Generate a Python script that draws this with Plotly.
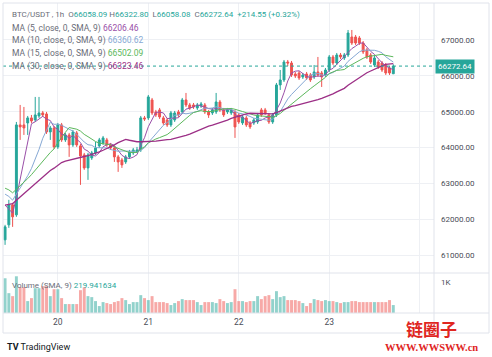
import plotly.graph_objects as go
import pandas as pd

# ---------------- data ----------------
day_ticks = [14, 38, 62, 86, 110]
day_labels = ["20", "21", "22", "23", ""]
price_ticks = [61000, 62000, 63000, 64000, 65000, 66000, 67000]
vol_ticks = [1000]
vol_tick_labels = ["1K"]

opens = [61430, 61848, 62405, 62126, 64633, 64633, 64688, 64828, 64772, 64883,
         64967, 64939, 64438, 64549, 64020, 64633, 64215, 64354, 64076, 64410,
         64048, 63797, 63435, 63714, 63853, 64048, 64131, 64215, 64076, 63992,
         63742, 63658, 63602, 63742, 63853, 63881, 63936, 64828, 64828, 65329,
         64995, 65051, 64828, 64772, 64633, 64772, 64995, 64995, 65329, 65190,
         65190, 65106, 65162, 65190, 64995, 64967, 64995, 65273, 65051, 64995,
         64967, 64995, 64911, 64688, 64828, 64688, 64688, 64716, 65051, 65051,
         64911, 64716, 64911, 65747, 65886, 66387, 66359, 66053, 66081, 65970,
         66053, 66025, 65970, 66109, 66081, 66025, 66164, 66527, 66359, 66582,
         66499, 66582, 67084, 67084, 67056, 66916, 66721, 66582, 66304, 66387,
         66359, 66304, 66220, 66058.09]
highs = [61848, 62545, 62461, 64716, 65190, 65134, 64883, 64911, 65413, 65413,
         65023, 64995, 64605, 64605, 64688, 64688, 64410, 64410, 64494, 64466,
         64104, 63853, 63853, 63909, 64159, 64271, 64326, 64271, 64131, 64048,
         63797, 63714, 63797, 63936, 63992, 64020, 64883, 64883, 65468, 65385,
         65051, 65106, 64883, 64828, 65023, 65023, 65051, 65385, 65524, 65245,
         65245, 65245, 65273, 65245, 65051, 65106, 65524, 65329, 65106, 65106,
         65106, 65051, 64967, 64911, 64883, 64744, 64828, 64967, 65106, 65106,
         64967, 64967, 65803, 66164, 66443, 66443, 66415, 66109, 66136, 66081,
         66109, 66081, 66304, 66527, 66136, 66220, 66582, 66582, 66638, 66638,
         66638, 67279, 67279, 67140, 67112, 66972, 66777, 66638, 66555, 66443,
         66415, 66359, 66276, 66322.80]
lows = [61290, 61764, 61792, 62071, 64215, 64354, 64354, 64688, 64716, 64828,
        64855, 64382, 64215, 63964, 63964, 64159, 64159, 63742, 64020, 64020,
        62962, 63380, 63101, 63658, 63797, 63992, 64076, 64020, 63936, 63602,
        63324, 63435, 63546, 63686, 63797, 63853, 63881, 64744, 64772, 64911,
        64855, 64800, 64633, 64577, 64577, 64716, 64855, 64939, 65134, 65051,
        65079, 65051, 65106, 64939, 64828, 64911, 64939, 64995, 64855, 64939,
        64911, 64271, 64661, 64633, 64577, 64521, 64633, 64661, 64855, 64911,
        64661, 64661, 64855, 65608, 65830, 66276, 65970, 65942, 65886, 65914,
        65886, 65830, 65914, 65970, 65691, 65970, 66109, 66304, 66304, 66471,
        66443, 66527, 66861, 66861, 66861, 66610, 66471, 66332, 66248, 66192,
        66109, 66025, 66025, 66058.08]
closes = [61792, 62405, 62071, 64633, 64577, 64549, 64828, 64744, 64911, 64967,
          64911, 64438, 64549, 64020, 64633, 64215, 64354, 64076, 64438, 64076,
          63769, 63435, 63797, 63853, 63992, 64215, 64271, 64076, 63992, 63742,
          63602, 63519, 63742, 63881, 63936, 63936, 64828, 64800, 65413, 64967,
          64911, 64855, 64688, 64633, 64967, 64967, 64911, 65329, 65190, 65106,
          65134, 65190, 65218, 64995, 64911, 65051, 65273, 65051, 64911, 65051,
          65051, 64577, 64716, 64855, 64633, 64577, 64772, 64911, 64911, 64967,
          64716, 64911, 65747, 65886, 66387, 66359, 66025, 65997, 65942, 66025,
          65942, 65886, 66109, 66025, 65970, 66164, 66527, 66359, 66582, 66527,
          66582, 67195, 66916, 66916, 66916, 66666, 66527, 66387, 66499, 66248,
          66164, 66081, 66081, 66272.64]
volumes = [1120, 640, 544, 1184, 832, 832, 384, 480, 800, 800,
           864, 864, 544, 768, 768, 480, 288, 288, 288, 288,
           736, 832, 544, 512, 384, 224, 352, 320, 288, 352,
           384, 480, 416, 288, 352, 352, 576, 480, 416, 544,
           352, 352, 352, 320, 256, 320, 384, 448, 416, 416,
           416, 352, 256, 352, 352, 352, 320, 448, 384, 320,
           352, 768, 384, 384, 352, 384, 384, 544, 448, 544,
           576, 448, 704, 512, 544, 416, 416, 416, 384, 320,
           224, 320, 448, 416, 384, 416, 384, 384, 352, 320,
           352, 352, 384, 384, 352, 352, 352, 352, 352, 352,
           352, 352, 416, 256]
# closes before the visible window (estimated from where the MA lines start)
prior_closes = [61700, 61650, 61800, 61750, 61900, 61850, 62000, 61950, 62050, 62100,
                61900, 62000, 62100, 62050, 62150,
                63100, 63300, 63250, 63150, 63200,
                63050, 63100, 62950, 63000, 62950,
                62900, 62700, 62500, 62100]

header_ohlc = ["66058.09", "66322.80", "66058.08", "66272.64"]
header_change = "+214.55 (+0.32%)"
ma_periods = [5, 10, 15, 30]
ma_value_texts = ["66206.46", "66360.62", "66502.09", "66323.46"]
vol_sma_text = "219.941634"
last_price = 66272.64

# ---------------- styling ----------------
UP, DOWN = "#26a69a", "#ef5350"
UP_V, DOWN_V = "rgba(38,166,154,0.5)", "rgba(239,83,80,0.5)"
MA_COLORS = ["#9a4fa8", "#86a8d4", "#5cb85c", "#9c2f86"]
GRID = "#eef0f4"
BORDER = "#e0e3eb"
TXT = "#4a4d57"
FONT = "Roboto"

W, H = 492, 357
PL, PR, PT, PB = 3, 434, 3, 313   # plot area in pixels
PW, PH = PR - PL, PB - PT


def xp(px):
    return (px - PL) / PW


def yp(py):
    return (PB - py) / PH


split = yp(273)
x_range = [-0.55, 113.8]
price_range = [60506, 68031]
vol_range = [0, 1290]

n = len(closes)
idx = list(range(n))
all_close = pd.Series(prior_closes + closes, dtype=float)
mas = {p: all_close.rolling(p).mean().iloc[-n:].tolist() for p in ma_periods}

fig = go.Figure()
fig.add_trace(go.Candlestick(
    x=idx, open=opens, high=highs, low=lows, close=closes,
    increasing=dict(line=dict(color=UP, width=1), fillcolor=UP),
    decreasing=dict(line=dict(color=DOWN, width=1), fillcolor=DOWN),
    whiskerwidth=0, xaxis="x", yaxis="y", showlegend=False, hoverinfo="skip"))
for p, col in zip(ma_periods, MA_COLORS):
    fig.add_trace(go.Scatter(
        x=idx, y=mas[p], mode="lines",
        line=dict(color=col, width=1.3 if p == 30 else 1),
        xaxis="x", yaxis="y", showlegend=False, hoverinfo="skip"))
vol_colors = [UP_V if c >= o else DOWN_V for o, c in zip(opens, closes)]
fig.add_trace(go.Bar(x=idx, y=volumes, marker=dict(color=vol_colors, line=dict(width=0)),
                     xaxis="x2", yaxis="y2", showlegend=False, hoverinfo="skip"))

tickfont = dict(family=FONT, size=8, color=TXT)
fig.update_layout(
    width=W, height=H, autosize=False,
    margin=dict(l=PL, r=W - PR, t=PT, b=H - PB, pad=0),
    paper_bgcolor="white", plot_bgcolor="white",
    showlegend=False, bargap=0.22, boxgap=0.28,
    xaxis=dict(domain=[0, 1], anchor="y", range=x_range, tickvals=day_ticks,
               showticklabels=False, showgrid=True, gridcolor=GRID, gridwidth=1,
               zeroline=False, showline=False, ticks="", rangeslider=dict(visible=False),
               fixedrange=True),
    yaxis=dict(domain=[split, 1], anchor="x", side="right", range=price_range,
               tickvals=price_ticks, tickformat=".2f", showgrid=True, gridcolor=GRID,
               zeroline=False, showline=False, ticks="", tickfont=tickfont,
               ticklabelstandoff=6),
    xaxis2=dict(domain=[0, 1], anchor="y2", range=x_range, tickvals=day_ticks,
                ticktext=day_labels, showgrid=True, gridcolor=GRID, zeroline=False,
                showline=False, ticks="", tickfont=dict(family=FONT, size=8.5, color=TXT),
                ticklabelstandoff=2),
    yaxis2=dict(domain=[0, split], anchor="x2", side="right", range=vol_range,
                tickvals=vol_ticks, ticktext=vol_tick_labels, showgrid=False,
                zeroline=False, showline=False, ticks="", tickfont=tickfont,
                ticklabelstandoff=6),
)

shapes = [
    dict(type="line", xref="paper", yref="y", x0=0, x1=1, y0=last_price, y1=last_price,
         line=dict(color=UP, width=1, dash="dot")),
    dict(type="line", xref="paper", yref="paper", x0=0, x1=xp(489), y0=split, y1=split,
         line=dict(color=BORDER, width=1)),
    dict(type="line", xref="paper", yref="paper", x0=0, x1=xp(489), y0=0, y1=0,
         line=dict(color=BORDER, width=1)),
    dict(type="line", xref="paper", yref="paper", x0=1, x1=1, y0=yp(333), y1=1,
         line=dict(color=BORDER, width=1)),
    dict(type="rect", xref="paper", yref="paper", x0=xp(3), x1=xp(489), y0=yp(333), y1=yp(3),
         line=dict(color=BORDER, width=1)),
]
fig.update_layout(shapes=shapes)


def span(t, c):
    return f"<span style='color:{c}'>{t}</span>"


LBL = "#6a6d78"
ann = []
line1 = ("BTC/USDT , 1h  O" + span(header_ohlc[0], UP) + " H" + span(header_ohlc[1], UP)
         + "  L" + span(header_ohlc[2], UP) + "  C" + span(header_ohlc[3], UP) + "  "
         + span(header_change, UP))
ann.append(dict(text=line1, x=xp(10), y=yp(15), font=dict(family=FONT, size=8, color=LBL)))
for k, (p, col, v) in enumerate(zip(ma_periods, MA_COLORS, ma_value_texts)):
    ann.append(dict(text=f"MA ({p}, close, 0, SMA, 9) " + span(v, col),
                    x=xp(10), y=yp(28 + 12.7 * k),
                    font=dict(family=FONT, size=8.5, color=LBL)))
ann.append(dict(text="Volume (SMA, 9) " + span(vol_sma_text, UP), x=xp(10), y=yp(285),
                font=dict(family=FONT, size=8, color=LBL)))
for a in ann:
    a.update(xref="paper", yref="paper", xanchor="left", yanchor="middle", showarrow=False)
# last price tag
ann.append(dict(text=f"{last_price:.2f}", xref="paper", yref="y", x=xp(435), y=last_price,
                xanchor="left", yanchor="middle", showarrow=False, bgcolor=UP, borderpad=2,
                font=dict(family=FONT, size=8, color="white")))
# TradingView logo
ann.append(dict(text="<b>TV</b> TradingView", xref="paper", yref="paper", x=xp(5), y=yp(347),
                xanchor="left", yanchor="middle", showarrow=False,
                font=dict(family=FONT, size=9, color="#131722")))
# watermark
ann.append(dict(text="<b>链圈子</b>", xref="paper", yref="paper", x=xp(431), y=yp(328),
                xanchor="center", yanchor="middle", showarrow=False,
                font=dict(family="Noto Sans CJK SC", size=17, color="#e0261f")))
ann.append(dict(text="<b>WWW.WWSWW.cn</b>", xref="paper", yref="paper", x=xp(431), y=yp(347),
                xanchor="center", yanchor="middle", showarrow=False,
                font=dict(family="Liberation Serif", size=10.5, color="#e0261f")))
fig.update_layout(annotations=ann)

fig.write_html("out.html", config={"displayModeBar": False},
               post_script="document.body.style.margin='0';")
